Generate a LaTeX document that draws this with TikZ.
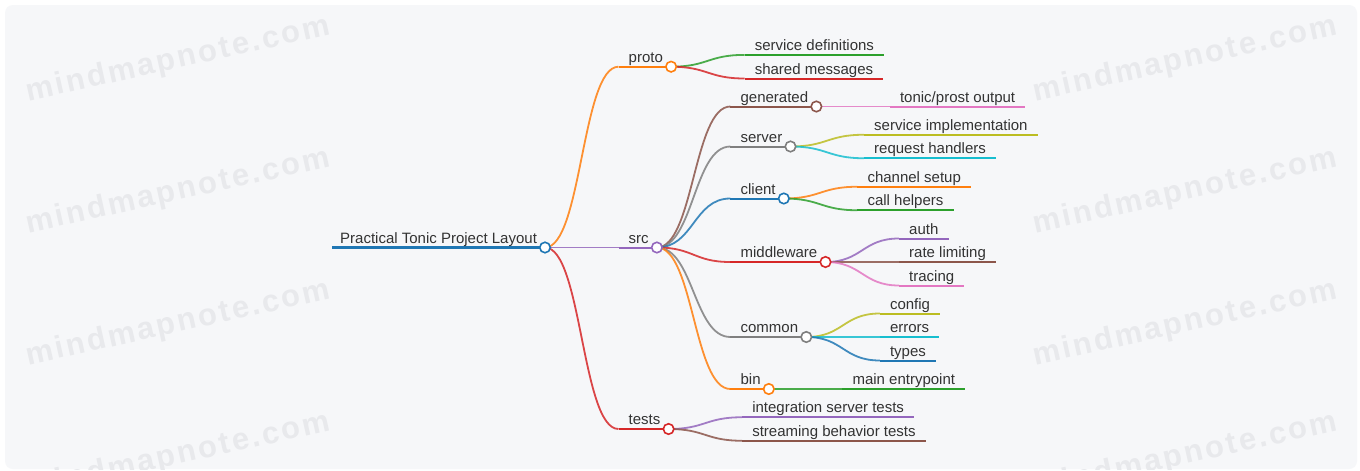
\documentclass[tikz,border=0pt]{standalone}
\usepackage{fontspec}
\setmainfont{Liberation Sans}
\newfontfamily\wmfont{Liberation Sans}[LetterSpace=8]
\usetikzlibrary{calc}
\pgfdeclarelayer{back}
\pgfdeclarelayer{lines}
\pgfsetlayers{back,lines,main}
\definecolor{cblue}{HTML}{1F77B4}
\definecolor{corange}{HTML}{FF7F0E}
\definecolor{cgreen}{HTML}{2CA02C}
\definecolor{cred}{HTML}{D62728}
\definecolor{cpurple}{HTML}{9467BD}
\definecolor{cbrown}{HTML}{8C564B}
\definecolor{cpink}{HTML}{E377C2}
\definecolor{cgray}{HTML}{7F7F7F}
\definecolor{colive}{HTML}{BCBD22}
\definecolor{ccyan}{HTML}{17BECF}
\definecolor{txt}{HTML}{333333}
\definecolor{bgc}{HTML}{F6F7F9}
\definecolor{wmc}{HTML}{E8E9EC}
\tikzset{
  lbl/.style={inner sep=0pt, text=txt, font=\fontsize{15}{18}\selectfont},
  link/.style={line width=1.8pt, draw opacity=0.85},
  seg/.style={line width=2pt},
  dot/.style={circle, fill=white, line width=1.6pt, minimum size=10.5pt, inner sep=0pt},
  wm/.style={text=wmc, font=\wmfont\bfseries\fontsize{31}{36}\selectfont, rotate=12.5},
}
% #1 name, #2 parent, #3 y, #4 colour, #5 text
\newcommand\mmleaf[5]{%
  \path ($(#2.center)+(73.5,0)$) coordinate (#1-q);
  \coordinate (#1-s) at (#1-q |- 0,#3);
  \node[lbl, anchor=base west] (#1) at ($(#1-s)+(10,-4.5)$) {#5};
  \coordinate (#1-e) at ($(#1.base east)+(10,4.5)$);
  \begin{pgfonlayer}{lines}
  \draw[link, draw=#4] (#2.center) .. controls +(36.75,0) and +(-36.75,0) .. (#1-s);
  \draw[seg, draw=#4] (#1-s) -- (#1-e);
  \end{pgfonlayer}
}
\newcommand\mmint[5]{%
  \path ($(#2.center)+(73.5,0)$) coordinate (#1-q);
  \coordinate (#1-s) at (#1-q |- 0,#3);
  \node[lbl, anchor=base west] (#1-t) at ($(#1-s)+(10,-4.5)$) {#5};
  \node[dot, draw=#4] (#1) at ($(#1-t.base east)+(8,4.5)$) {};
  \begin{pgfonlayer}{lines}
  \draw[link, draw=#4] (#2.center) .. controls +(36.75,0) and +(-36.75,0) .. (#1-s);
  \draw[seg, draw=#4] (#1-s) -- (#1.center);
  \end{pgfonlayer}
}
\begin{document}
\begin{tikzpicture}[x=1pt,y=-1pt]
\useasboundingbox (0,0) rectangle (1360,471);
\begin{pgfonlayer}{back}
\fill[white] (0,0) rectangle (1360,471);
\fill[bgc, rounded corners=8pt] (5,5) rectangle (1357,469);
\begin{scope}
\clip[rounded corners=8pt] (5,5) rectangle (1357,469);
\foreach \wy in {60,192,324,456} {
  \node[wm] at (178,\wy) {mindmapnote.com};
  \node[wm] at (1185,\wy) {mindmapnote.com};
}
\end{scope}
\end{pgfonlayer}
% root
\coordinate (root-s) at (332,247.5);
\node[lbl, anchor=base west] (root-t) at (340,243) {Practical Tonic Project Layout};
\node[dot, draw=cblue] (root) at (545,247.5) {};
\begin{pgfonlayer}{lines}
\draw[line width=3.5pt, cblue] (root-s) -- (root.center);
\end{pgfonlayer}
% level 1
\mmint{proto}{root}{66.7}{corange}{proto}
\mmint{src}{root}{247.5}{cpurple}{src}
\mmint{tests}{root}{429}{cred}{tests}
% proto
\mmleaf{sdef}{proto}{54.9}{cgreen}{service definitions}
\mmleaf{smsg}{proto}{78.5}{cred}{shared messages}
% src
\mmint{gen}{src}{106.5}{cbrown}{generated}
\mmint{server}{src}{146.5}{cgray}{server}
\mmint{client}{src}{198.5}{cblue}{client}
\mmint{mw}{src}{262}{cred}{middleware}
\mmint{common}{src}{337}{cgray}{common}
\mmint{bin}{src}{389}{corange}{bin}
\mmleaf{tonic}{gen}{106.5}{cpink}{tonic/prost output}
\mmleaf{simpl}{server}{134.75}{colive}{service implementation}
\mmleaf{rh}{server}{158.25}{ccyan}{request handlers}
\mmleaf{chan}{client}{186.75}{corange}{channel setup}
\mmleaf{call}{client}{210.25}{cgreen}{call helpers}
\mmleaf{auth}{mw}{238.5}{cpurple}{auth}
\mmleaf{rate}{mw}{262}{cbrown}{rate limiting}
\mmleaf{trace}{mw}{285.5}{cpink}{tracing}
\mmleaf{config}{common}{313.5}{colive}{config}
\mmleaf{errors}{common}{337}{ccyan}{errors}
\mmleaf{types}{common}{360.5}{cblue}{types}
\mmleaf{main}{bin}{389}{cgreen}{main entrypoint}
% tests
\mmleaf{integ}{tests}{417.25}{cpurple}{integration server tests}
\mmleaf{stream}{tests}{440.75}{cbrown}{streaming behavior tests}
\end{tikzpicture}
\end{document}
